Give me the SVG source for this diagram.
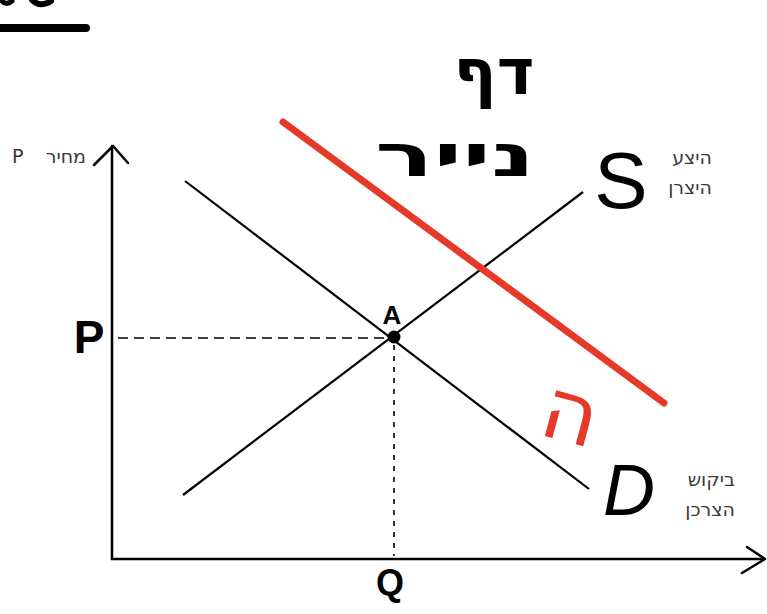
<svg xmlns="http://www.w3.org/2000/svg" width="767" height="614" viewBox="0 0 767 614">
<style>
.ax{stroke:#000;stroke-width:2.5;fill:none;stroke-linecap:round;stroke-linejoin:round}
.ln{stroke:#000;stroke-width:2.2;fill:none}
.dash{stroke:#000;stroke-width:1.6;fill:none}
.red{stroke:#e5392a;stroke-width:7;fill:none;stroke-linecap:round}
.lbl{font-family:"DejaVu Sans","Liberation Sans",sans-serif;font-size:19px;fill:#3a3a3a}
.hand{font-family:"DejaVu Sans","Liberation Sans",sans-serif;font-weight:bold;fill:#000}
.big{font-family:"Liberation Sans","DejaVu Sans",sans-serif;fill:#000}
</style>
<rect width="767" height="614" fill="#fff"/>
<g id="title-fragment">
<path d="M0 28 H86" stroke="#000" stroke-width="8" stroke-linecap="round"/>
<path d="M1 0 Q6 6 12 1" stroke="#000" stroke-width="5" fill="none" stroke-linecap="round"/>
<path d="M32 0 Q40 8 51 1" stroke="#000" stroke-width="6" fill="none" stroke-linecap="round"/>
</g>
<g id="axes">
<path class="ax" d="M112 559 V146"/>
<path class="ax" d="M94 165 L113 146 L128 163"/>
<path class="ax" d="M112 559 H764"/>
<path class="ax" d="M747 547 L765 559 L742 573"/>
</g>
<g id="axis-labels">
<text class="lbl" x="12" y="163" fill="#4a3a2a">P</text>
<text class="lbl" x="86" y="163" text-anchor="end">מחיר</text>
<text class="big" x="89" y="353" font-size="46" font-weight="bold" text-anchor="middle">P</text>
<text class="big" x="390" y="595" font-size="36" font-weight="bold" text-anchor="middle">Q</text>
</g>
<g id="connectors">
<path class="dash" d="M118 338 H388" stroke-dasharray="10 6"/>
<path class="dash" d="M394 345 V556" stroke-dasharray="5 6"/>
</g>
<g id="demand">
<path class="ln" d="M185 181 L589 489"/>
<text class="big" x="629" y="515" font-size="72" font-style="italic" text-anchor="middle">D</text>
<text class="lbl" x="735" y="486" text-anchor="end">ביקוש</text>
<text class="lbl" x="735" y="516" text-anchor="end">הצרכן</text>
</g>
<g id="supply">
<path class="ln" d="M183 495 L583 192"/>
<text class="big" x="621" y="208" font-size="80" text-anchor="middle">S</text>
<text class="lbl" x="712" y="164" text-anchor="end">היצע</text>
<text class="lbl" x="712" y="194" text-anchor="end">היצרן</text>
</g>
<g id="point-A">
<circle cx="394" cy="337" r="6.5" fill="#000"/>
<text class="big" x="392" y="324" font-size="26" font-weight="bold" text-anchor="middle">A</text>
</g>
<g id="new-demand">
<path class="red" d="M283 122 L664 403"/>
<text x="572" y="442" font-size="86" fill="#e5392a" font-family="DejaVu Sans,sans-serif" text-anchor="middle" transform="rotate(15 572 410)">ה</text>
</g>
<g id="handwriting">
<text class="hand" x="494" y="94" font-size="64" text-anchor="middle">דף</text>
<text class="hand" x="455" y="176" font-size="58" text-anchor="middle" textLength="160" lengthAdjust="spacingAndGlyphs">נייר</text>
</g>
</svg>
